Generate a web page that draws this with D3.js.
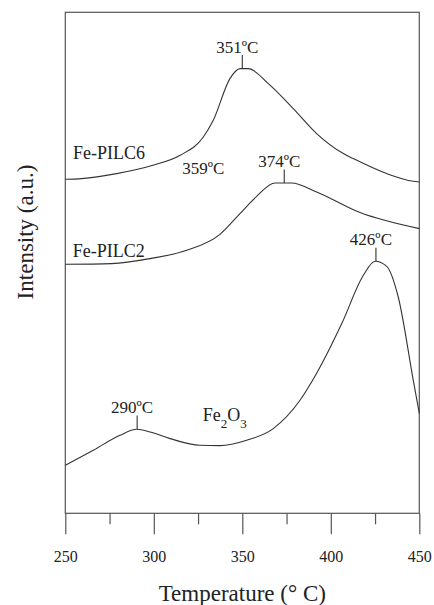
<!DOCTYPE html>
<html><head><meta charset="utf-8">
<script src="https://cdn.jsdelivr.net/npm/d3@7"></script>
<style>body{margin:0;background:#fff}svg{display:block}text{font-family:"Liberation Serif","Times New Roman",serif;fill:#222}</style>
</head><body>
<script>
// Data (intensity in arbitrary units)
const tempPILC6 = [250, 259.3, 279, 299.5, 314.9, 328, 333.6, 343, 348.7, 353.4, 364.7, 378.8, 392, 407.1, 412.7, 431.6, 446.6, 450];
const valPILC6  = [334, 334.7, 339.7, 348, 358, 376.3, 393, 434.7, 444.7, 444.7, 429.7, 404.7, 379.7, 359.7, 354.7, 339.7, 332, 331.3];
const tempPILC2 = [250, 276.2, 297.9, 318.6, 337.4, 348.7, 358.1, 368.5, 377.9, 392, 416.5, 450];
const valPILC2  = [249, 249.7, 254.7, 263, 279, 299.7, 317, 330.3, 330.3, 321.3, 300.7, 284.7];
const tempFe2O3 = [250, 265.8, 280.9, 290.3, 297.9, 309.2, 326.1, 337.4, 352.5, 367.5, 382.6, 392, 406.2, 418.4, 425, 431.6, 438.1, 446.6, 450];
const valFe2O3  = [48, 63, 78, 84, 81.3, 74.7, 68, 67.7, 73, 84.7, 113, 140, 189.7, 238, 252, 247, 216.3, 133, 100];
const majorTicks = [250, 300, 350, 400, 450];
const minorTicks = [275, 325, 375, 425];
const peakTemps = [350, 373.7, 425.5, 290.6];
const peakVals  = [444.7, 330.3, 252, 84.2];
const peakLabels = ["351ºC", "374ºC", "426ºC", "290ºC"];
const seriesNames = ["Fe-PILC6", "Fe-PILC2"];
const seriesLabelT = [254.4, 254.2];
const seriesLabelV = [354, 256.3];

const W = 434, H = 605;
const m = {left: 65.3, right: 419.3, top: 12.3, bottom: 513.3};
const svg = d3.select("body").append("svg").attr("width", W).attr("height", H);
const x = d3.scaleLinear().domain([250, 450]).range([m.left, m.right]);
const y = d3.scaleLinear().domain([0, 501]).range([m.bottom, m.top]);

// frame
svg.append("rect").attr("x", m.left).attr("y", m.top)
  .attr("width", m.right - m.left).attr("height", m.bottom - m.top)
  .attr("fill", "none").attr("stroke", "#555").attr("stroke-width", 1.2);

// axes
const ax = svg.append("g").attr("transform", `translate(0,${m.bottom})`)
  .call(d3.axisBottom(x).tickValues(majorTicks).tickSize(21).tickPadding(16).tickFormat(d3.format("d")));
ax.attr("font-family", null);
ax.select(".domain").remove();
ax.selectAll("line").attr("stroke", "#555").attr("stroke-width", 1.2);
ax.selectAll("text").attr("font-size", 16).attr("fill", "#222")
  .style("font-family", "'Liberation Serif', serif");
const axm = svg.append("g").attr("transform", `translate(0,${m.bottom})`)
  .call(d3.axisBottom(x).tickValues(minorTicks).tickSize(11).tickFormat(""));
axm.select(".domain").remove();
axm.selectAll("line").attr("stroke", "#555").attr("stroke-width", 1.2);

// axis titles
svg.append("text").attr("x", (m.left + m.right) / 2).attr("y", 601)
  .attr("text-anchor", "middle").attr("font-size", 23).text("Temperature (° C)");
svg.append("text").attr("transform", "translate(33,232) rotate(-90)")
  .attr("text-anchor", "middle").attr("font-size", 23).text("Intensity (a.u.)");

// lines
const line = d3.line().x(d => x(d[0])).y(d => y(d[1])).curve(d3.curveMonotoneX);
[[tempPILC6, valPILC6], [tempPILC2, valPILC2], [tempFe2O3, valFe2O3]].forEach(([t, v]) => {
  svg.append("path").datum(t.map((d, i) => [d, v[i]]))
    .attr("d", line).attr("fill", "none").attr("stroke", "#333").attr("stroke-width", 1.1);
});

// peak markers
peakTemps.forEach((t, i) => {
  const px = x(t), py = y(peakVals[i]);
  svg.append("line").attr("x1", px).attr("x2", px).attr("y1", py).attr("y2", py - 13.5)
    .attr("stroke", "#333").attr("stroke-width", 1.1);
  svg.append("text").attr("x", px - 5).attr("y", py - 16).attr("text-anchor", "middle")
    .attr("font-size", 17).text(peakLabels[i]);
});
// extra label
svg.append("text").attr("x", x(328)).attr("y", y(339)).attr("text-anchor", "middle")
  .attr("font-size", 17).text("359ºC");

// series labels
seriesNames.forEach((n, i) => {
  svg.append("text").attr("x", x(seriesLabelT[i])).attr("y", y(seriesLabelV[i]))
    .attr("font-size", 18).text(n);
});
const fe = svg.append("text").attr("x", x(327.6)).attr("y", y(92)).attr("font-size", 18);
fe.append("tspan").text("Fe");
fe.append("tspan").attr("font-size", 13).attr("dy", 7).text("2");
fe.append("tspan").attr("dy", -7).text("O");
fe.append("tspan").attr("font-size", 13).attr("dy", 7).text("3");
</script>
</body></html>
